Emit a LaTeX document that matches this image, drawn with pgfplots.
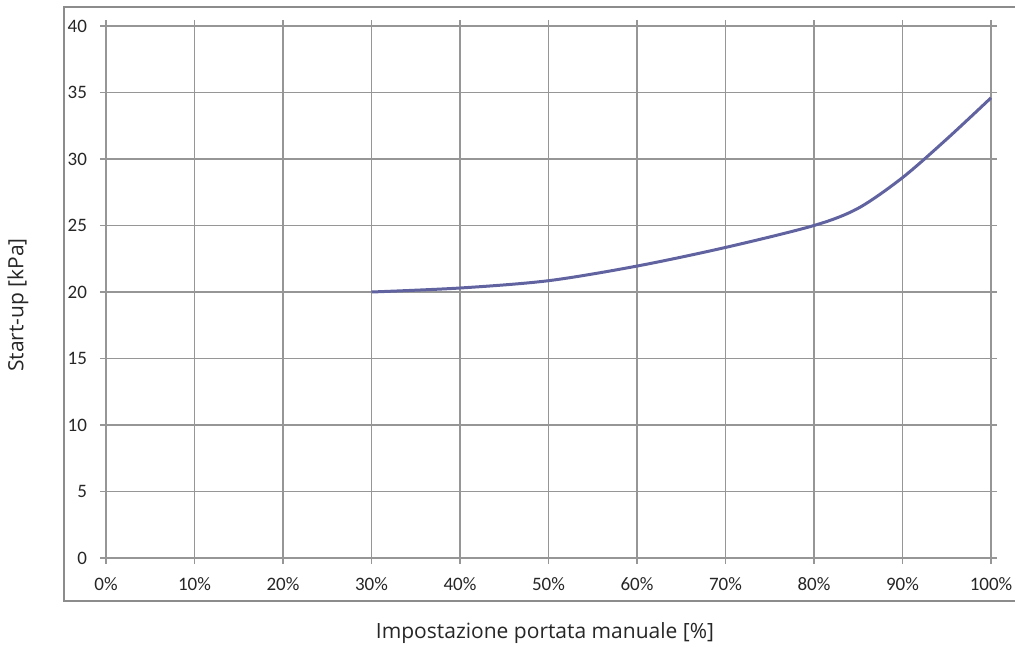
\documentclass[border=0pt]{standalone}
\usepackage{pgfplots}
\pgfplotsset{compat=1.18}
\usepackage{fontspec}
\setmainfont{Carlito}
\newfontfamily\labelfont{Open Sans}
\definecolor{gridgray}{RGB}{150,150,150}
\definecolor{framegray}{RGB}{140,140,140}
\definecolor{curve}{RGB}{96,99,160}
\begin{document}
\begin{tikzpicture}
\useasboundingbox (-53pt,-45pt) rectangle (454.5pt,279pt);
\draw[framegray,line width=0.9pt] (460pt,-21.5pt) -- (-21pt,-21.5pt) -- (-21pt,275.5pt) -- (460pt,275.5pt);
\begin{axis}[
    at={(0,0)}, anchor=south west,
    scale only axis,
    width=442.5pt, height=266pt,
    xmin=0, xmax=100, ymin=0, ymax=40,
    xtick={0,10,...,100}, ytick={0,5,...,40},
    xticklabel={\pgfmathprintnumber{\tick}\%},
    /pgf/number format/assume math mode=true,
    tick label style={font=\fontsize{9.5}{11}\selectfont, text=black!85},
    xticklabel style={yshift=-3pt},
    yticklabel style={xshift=-3pt},
    tick align=outside, major tick length=3pt,
    tick style={gridgray, line width=0.75pt},
    grid=major,
    major grid style={gridgray, line width=0.75pt},
    axis line style={gridgray, line width=0.75pt},
    clip=false,
]
\addplot[curve, line width=1.5pt, smooth, tension=0.5] coordinates {
    (30,20.0) (40,20.3) (50,20.85) (60,21.95) (70,23.35) (80,25.0) (85,26.3) (90,28.6) (95,31.5) (100,34.6)
};
\end{axis}
\node[font=\labelfont\fontsize{10.5}{12}\selectfont, text=black!85] at (219.5pt,-37.5pt) {Impostazione portata manuale [\%]};
\node[font=\labelfont\fontsize{10.5}{12}\selectfont, text=black!85, rotate=90] at (-44pt,126.5pt) {Start-up [kPa]};
\end{tikzpicture}
\end{document}
